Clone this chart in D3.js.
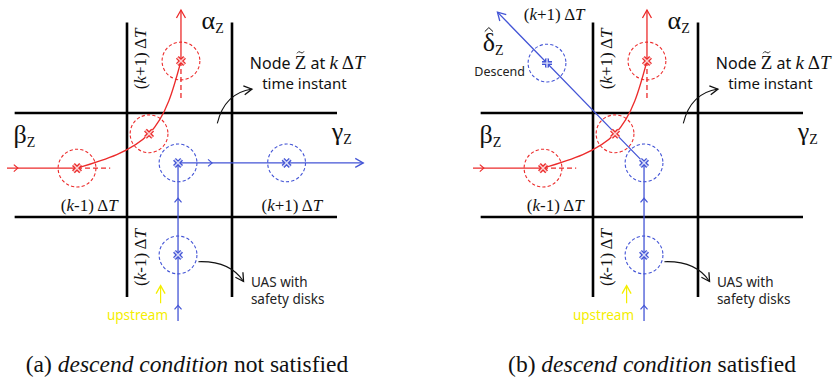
<!DOCTYPE html>
<html>
<head>
<meta charset="utf-8">
<script src="https://cdn.jsdelivr.net/npm/d3@7/dist/d3.min.js"></script>
<style>
  html, body { margin: 0; padding: 0; background: #fff; }
  svg { display: block; }
</style>
</head>
<body>
<svg id="fig" width="839" height="377"></svg>
<script>
// ---- Intersection model (grid units: vertical lines at u = 0, 1; horizontal lines at v = 0, -1) ----
const gridU = [0, 1];
const gridV = [0, -1];
const gridExtentU = [-1.07, 2.0];
const gridExtentV = [0.87, -1.77];

// Red UAS: enters from beta, turns through the node and leaves towards alpha
const redDisks = [[-0.476, -0.53], [0.21, -0.2], [0.514, 0.5]];
const redEntry = [[-1.143, -0.53], [-0.476, -0.53]];
const redTurn = [[-0.476, -0.53], [0.21, -0.2], [0.514, 0.5]];
const redExit = [[0.514, 0.5], [0.514, 0.99]];
const redGhostTails = [[[-0.476, -0.53], [-0.16, -0.53]], [[0.514, 0.5], [0.514, 0.14]]];
const redChevrons = [[-1.04, -0.53, 0]];

// Blue UAS: climbs from upstream (panel a goes on to gamma; panel b descends to delta)
const blueDisksA = [[0.486, -0.48, "x"], [1.52, -0.48, "x"], [0.486, -1.365, "x"]];
const blueDisksB = [[0.486, -0.48, "x"], [0.486, -1.365, "x"], [-0.438, 0.48, "+"]];
const bluePathA = [[0.486, -2.0], [0.486, -0.48], [2.25, -0.48]];
const bluePathB = [[0.486, -2.0], [0.486, -0.48], [-0.91, 0.97]];
const blueChevronsA = [[0.486, -1.85, -90], [0.486, -0.82, -90], [0.81, -0.48, 0]];
const blueChevronsB = [[0.486, -1.85, -90], [0.486, -0.82, -90]];

const diskRadius = 0.18;

const captions = [
  ["(a) ", "descend condition", " not satisfied"],
  ["(b) ", "descend condition", " satisfied"]
];

const RED = "#ec2b2b", BLUE = "#4455d6", YELLOW = "#f4ee00";
const SERIF = "Liberation Serif";
const SANS = "Noto Sans";

const svg = d3.select("#fig");

// arrow-head markers
const defs = svg.append("defs");
[["headRed", RED], ["headBlue", BLUE], ["headBlack", "#111"], ["headYellow", YELLOW]].forEach(([id, c]) => {
  defs.append("marker").attr("id", id)
    .attr("viewBox", "-10 -6 12 12").attr("refX", 0).attr("refY", 0)
    .attr("markerWidth", 12).attr("markerHeight", 12)
    .attr("markerUnits", "userSpaceOnUse").attr("orient", "auto")
    .append("path").attr("d", "M-8,-4.5 L0,0 L-8,4.5")
    .attr("fill", "none").attr("stroke", c).attr("stroke-width", 1.3);
});

function drawPanel(key, x0) {
  const x = d3.scaleLinear().domain([0, 1]).range([x0, x0 + 105]);
  const y = d3.scaleLinear().domain([0, -1]).range([113, 217]);
  const g = svg.append("g").attr("class", "panel-" + key);
  const line = d3.line().x(d => x(d[0])).y(d => y(d[1]));

  // road grid
  gridV.forEach(v => g.append("line")
    .attr("x1", x(gridExtentU[0])).attr("x2", x(gridExtentU[1]))
    .attr("y1", y(v)).attr("y2", y(v))
    .attr("stroke", "#000").attr("stroke-width", 2.6));
  gridU.forEach(u => g.append("line")
    .attr("x1", x(u)).attr("x2", x(u))
    .attr("y1", y(gridExtentV[0])).attr("y2", y(gridExtentV[1]))
    .attr("stroke", "#000").attr("stroke-width", 2.6));

  const rpx = x(diskRadius) - x(0);

  // red trajectory
  g.append("path").attr("d", line(redEntry)).attr("fill", "none").attr("stroke", RED).attr("stroke-width", 1.3);
  g.append("path").attr("d", d3.line().x(d => x(d[0])).y(d => y(d[1])).curve(d3.curveNatural)(redTurn))
    .attr("fill", "none").attr("stroke", RED).attr("stroke-width", 1.3);
  g.append("path").attr("d", line(redExit)).attr("fill", "none").attr("stroke", RED).attr("stroke-width", 1.3)
    .attr("marker-end", "url(#headRed)");
  redGhostTails.forEach(t => g.append("path").attr("d", line(t)).attr("fill", "none")
    .attr("stroke", RED).attr("stroke-width", 1.3).attr("stroke-dasharray", "5,3"));

  // blue trajectory
  const bPath = key === "a" ? bluePathA : bluePathB;
  g.append("path").attr("d", line(bPath)).attr("fill", "none").attr("stroke", BLUE).attr("stroke-width", 1.3)
    .attr("marker-end", "url(#headBlue)");

  // direction chevrons
  const chev = (list, c) => list.forEach(([u, v, a]) => g.append("path")
    .attr("d", "M-4,-3.5 L0,0 L-4,3.5")
    .attr("transform", `translate(${x(u)},${y(v)}) rotate(${a})`)
    .attr("fill", "none").attr("stroke", c).attr("stroke-width", 1.2));
  chev(redChevrons, RED);
  chev(key === "a" ? blueChevronsA : blueChevronsB, BLUE);

  // safety disks + UAS marks
  const mark = (u, v, c, type) => {
    const cx = x(u), cy = y(v);
    g.append("circle").attr("cx", cx).attr("cy", cy).attr("r", rpx)
      .attr("fill", "none").attr("stroke", c).attr("stroke-width", 1.1).attr("stroke-dasharray", "3.2,2.2");
    const d = type === "+" ? "M-5,0 L5,0 M0,-4.5 L0,4.5" : "M-3.6,-3.6 L3.6,3.6 M-3.6,3.6 L3.6,-3.6";
    g.append("path").attr("d", d).attr("transform", `translate(${cx},${cy})`)
      .attr("stroke", c).attr("stroke-width", 4).attr("fill", "none");
    g.append("path").attr("d", d).attr("transform", `translate(${cx},${cy})`)
      .attr("stroke", "#fff").attr("stroke-width", 1.4).attr("fill", "none").attr("opacity", 0.8);
  };
  redDisks.forEach(([u, v]) => mark(u, v, RED, "x"));
  (key === "a" ? blueDisksA : blueDisksB).forEach(([u, v, t]) => mark(u, v, BLUE, t));

  // --- labels ---
  const greek = (u, v, sym, hat) => {
    const t = g.append("text").style("font-family", SERIF).attr("x", x(u)).attr("y", y(v))
      .attr("font-size", 26).attr("fill", "#111");
    t.append("tspan").text(sym);
    t.append("tspan").attr("font-size", 14).attr("dy", 4).text("Z");
    if (hat) {
      const n = t.node();
      const s = n.getStartPositionOfChar(0).x, e = n.getEndPositionOfChar(0).x;
      g.append("path")
        .attr("d", `M${s + 2},${y(v) - 19} L${(s + e) / 2},${y(v) - 23} L${e - 2},${y(v) - 19}`)
        .attr("fill", "none").attr("stroke", "#111").attr("stroke-width", 1);
    }
  };
  const dT = (u, v, sign, rotate) => {
    const t = g.append("text").style("font-family", SERIF).attr("font-size", 17).attr("fill", "#111")
      .attr("text-anchor", "middle")
      .attr("transform", `translate(${x(u)},${y(v)})` + (rotate ? " rotate(-90)" : ""));
    t.append("tspan").text("(");
    t.append("tspan").attr("font-style", "italic").text("k");
    t.append("tspan").text(sign + "1)\u2009\u0394");
    t.append("tspan").attr("font-style", "italic").text("T");
  };

  greek(0.71, 0.81, "\u03B1");
  greek(-1.08, -0.29, "\u03B2");
  greek(1.95, -0.26, "\u03B3");
  dT(0.18, 0.52, "+", true);
  dT(0.18, -1.39, "-", true);
  dT(-0.36, -0.94, "-", false);

  if (key === "a") {
    dT(1.57, -0.94, "+", false);
  } else {
    greek(-1.05, 0.6, "\u03B4", true);
    g.append("text").style("font-family", SANS).attr("x", x(-1.13)).attr("y", y(0.36))
      .attr("font-size", 12.5).attr("fill", "#222").text("Descend");
    dT(-0.37, 0.89, "+", false);
  }

  // node annotation
  const nt = g.append("text").style("font-family", SANS).attr("x", x(1.17)).attr("y", y(0.42))
    .attr("font-size", 16).attr("fill", "#111");
  nt.append("tspan").text("Node ");
  nt.append("tspan").style("font-family", SERIF).attr("font-size", 19).text("Z");
  nt.append("tspan").text("  at  ");
  nt.append("tspan").style("font-family", SERIF).attr("font-style", "italic").attr("font-size", 19).text("k\u2009");
  nt.append("tspan").style("font-family", SERIF).attr("font-size", 19).text("\u0394");
  nt.append("tspan").style("font-family", SERIF).attr("font-style", "italic").attr("font-size", 19).text("T");
  {
    const n = nt.node();
    const s = n.getStartPositionOfChar(5).x, e = n.getEndPositionOfChar(5).x;
    const mx = (s + e) / 2, ty = y(0.42) - 17;
    g.append("path")
      .attr("d", `M${mx - 3.5},${ty + 1} Q${mx - 1.8},${ty - 2} ${mx},${ty} T${mx + 3.5},${ty - 1}`)
      .attr("fill", "none").attr("stroke", "#111").attr("stroke-width", 0.9);
  }
  g.append("text").style("font-family", SANS).attr("x", x(1.69)).attr("y", y(0.23))
    .attr("font-size", 15).attr("fill", "#111").attr("text-anchor", "middle").text("time instant");
  g.append("path")
    .attr("d", `M${x(0.86)},${y(-0.1)} Q${x(0.93)},${y(0.19)} ${x(1.19)},${y(0.23)}`)
    .attr("fill", "none").attr("stroke", "#111").attr("stroke-width", 1.1).attr("marker-end", "url(#headBlack)");

  // UAS annotation
  g.append("path")
    .attr("d", `M${x(0.68)},${y(-1.43)} Q${x(0.98)},${y(-1.42)} ${x(1.11)},${y(-1.62)}`)
    .attr("fill", "none").attr("stroke", "#111").attr("stroke-width", 1.1).attr("marker-end", "url(#headBlack)");
  g.append("text").style("font-family", SANS).attr("x", x(1.18)).attr("y", y(-1.67))
    .attr("font-size", 13.5).attr("fill", "#222").text("UAS with");
  g.append("text").style("font-family", SANS).attr("x", x(1.18)).attr("y", y(-1.84))
    .attr("font-size", 13.5).attr("fill", "#222").text("safety disks");

  // upstream hint
  g.append("line").attr("x1", x(0.32)).attr("x2", x(0.32)).attr("y1", y(-1.83)).attr("y2", y(-1.66))
    .attr("stroke", YELLOW).attr("stroke-width", 1.2).attr("marker-end", "url(#headYellow)");
  g.append("text").style("font-family", SANS).attr("x", x(0.1)).attr("y", y(-1.99))
    .attr("font-size", 13.5).attr("fill", YELLOW).attr("text-anchor", "middle").text("upstream");
}

drawPanel("a", 127);
drawPanel("b", 593);

// sub-figure captions
[[187, captions[0]], [652, captions[1]]].forEach(([cx, parts]) => {
  const t = svg.append("text").style("font-family", SERIF).attr("x", cx).attr("y", 372)
    .attr("font-size", 23.5).attr("fill", "#111").attr("text-anchor", "middle");
  t.append("tspan").text(parts[0]);
  t.append("tspan").attr("font-style", "italic").text(parts[1]);
  t.append("tspan").text(parts[2]);
});
</script>
</body>
</html>
